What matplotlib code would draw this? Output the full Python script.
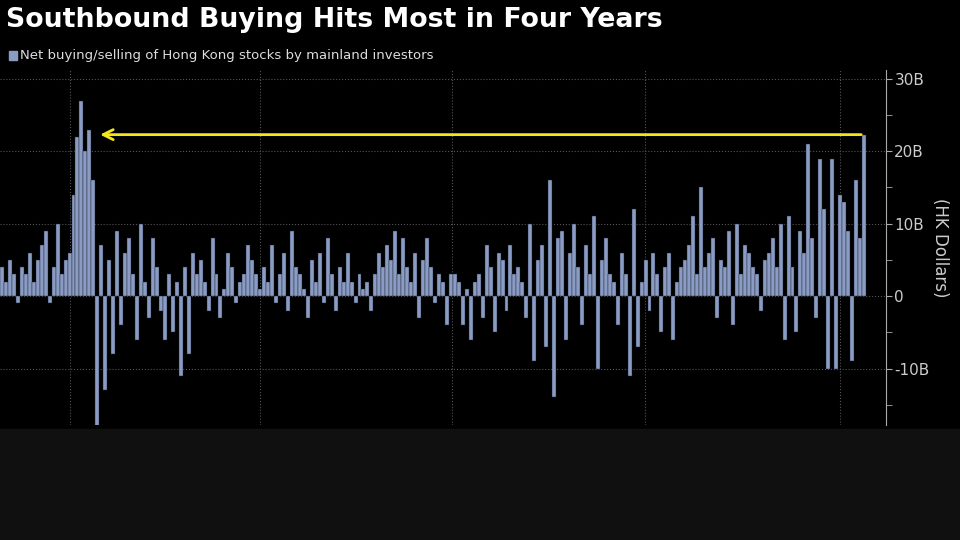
import matplotlib
matplotlib.use("Agg")
import matplotlib.pyplot as plt
import numpy as np

# Daily net buying, HK$ billions (approximate)
NET_FLOW = [
    4, 2, 5, 3, -1, 4, 3, 6, 2, 5, 7, 9, -1, 4, 10, 3, 5,
    6, 14, 22, 27, 20, 23, 16,
    -18, 7, -13, 5, -8, 9, -4, 6, 8,
    3, -6, 10, 2, -3, 8, 4, -2, -6, 3, -5, 2, -11, 4, -8, 6, 3,
    5, 2, -2, 8, 3, -3, 1, 6, 4, -1, 2, 3, 7, 5, 3,
    1, 4, 2, 7, -1, 3, 6, -2, 9, 4,
    3, 1, -3, 5, 2, 6, -1, 8, 3, -2, 4, 2, 6,
    2, -1, 3, 1, 2, -2, 3, 6, 4, 7, 5, 9, 3, 8, 4, 2, 6, -3, 5, 8,
    4, -1, 3, 2, -4, 3,
    3, 2, -4, 1, -6, 2, 3, -3, 7, 4, -5, 6, 5, -2, 7, 3, 4,
    2, -3, 10, -9, 5, 7, -7, 16, -14, 8,
    9, -6, 6, 10, 4, -4, 7, 3, 11, -10, 5, 8, 3, 2, -4, 6, 3, -11, 12, -7,
    2, 5, -2, 6, 3, -5, 4, 6, -6, 2,
    4, 5, 7, 11, 3, 15, 4, 6, 8, -3,
    5, 4, 9, -4, 10, 3, 7, 6, 4, 3, -2, 5, 6, 8, 4,
    10, -6, 11, 4, -5, 9, 6, 21, 8, -3, 19, 12, -10, 19, -10,
    14, 13, 9, -9, 16, 8, 22.3,
]
# fraction of the bar span where each year begins
YEAR_STARTS = [0.081, 0.300, 0.522, 0.745, 0.970]
Y_TICKS = [-10, 0, 10, 20, 30]
Y_LABELS = ["-10B", "0", "10B", "20B", "30B"]
PEAK_START = 24

BAR_COLOR = "#8a9cc4"

fig = plt.figure(figsize=(9.6, 5.4), dpi=100, facecolor="black")
fig.patches.append(plt.Rectangle((0, 0), 1, 0.205, transform=fig.transFigure,
                                 color="#101010", zorder=0))
ax = fig.add_axes([0, 0.213, 886 / 960, 0.657], facecolor="black")

n = len(NET_FLOW)
x = np.arange(n)
ax.bar(x, NET_FLOW, width=1.0, color=BAR_COLOR, edgecolor="#1c2230", lw=0.3, zorder=2)
ax.set_xlim(-0.5, n * 886 / 866 - 0.5)
ax.set_ylim(-17.8, 31.2)

for f in YEAR_STARTS:
    ax.axvline(f * n - 0.5, color="#555", ls=":", lw=0.8, zorder=1)
for yt in Y_TICKS:
    ax.axhline(yt, color="#555", ls=":", lw=0.8, zorder=1)

# arrow from latest value back to the 2021 peak
ax.annotate("", xy=(PEAK_START, NET_FLOW[-1]), xytext=(n - 1, NET_FLOW[-1]),
            arrowprops=dict(arrowstyle="->", color="#f5e61b", lw=2,
                            mutation_scale=18), zorder=3)

ax.yaxis.tick_right()
ax.set_yticks(Y_TICKS)
ax.set_yticklabels(Y_LABELS, color="#ccc", fontsize=11)
ax.set_yticks([-15, -5, 5, 15, 25], minor=True)
ax.tick_params(axis="y", which="both", color="#aaa", length=4, pad=2)
ax.set_xticks([])
for s in ["top", "left", "bottom"]:
    ax.spines[s].set_visible(False)
ax.spines["right"].set_color("#aaa")
ax.yaxis.set_label_position("right")
ax.set_ylabel("(HK Dollars)", color="#ccc", fontsize=12, rotation=-90, labelpad=14)

fig.text(0.006, 0.963, "Southbound Buying Hits Most in Four Years", color="white",
         fontsize=19.3, fontweight="bold", va="center")
fig.patches.append(plt.Rectangle((0.009, 0.888), 0.009, 0.018, transform=fig.transFigure,
                                 color=BAR_COLOR))
fig.text(0.021, 0.897, "Net buying/selling of Hong Kong stocks by mainland investors",
         color="#ddd", fontsize=9.5, va="center")

fig.savefig("out.png", dpi=100, facecolor="black")
